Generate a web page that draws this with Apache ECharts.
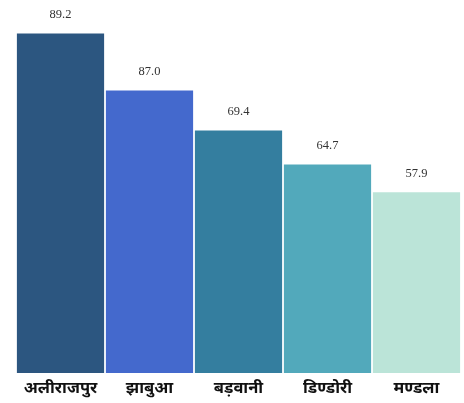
<!DOCTYPE html>
<html>
<head>
<meta charset="utf-8">
<script src="https://cdn.jsdelivr.net/npm/echarts@6/dist/echarts.min.js"></script>
<style>html,body{margin:0;padding:0;background:#fff;}#c{width:464px;height:403px;}</style>
</head>
<body>
<div id="c"></div>
<script>
var categories = ['अलीराजपुर', 'झाबुआ', 'बड़वानी', 'डिण्डोरी', 'मण्डला'];
var valueLabels = ['89.2', '87.0', '69.4', '64.7', '57.9'];
// bar lengths as drawn in the picture (same units as the first bar's label)
var barHeights = [89.2, 74.2, 63.7, 54.8, 47.5];
var barColors = ['#2c5680', '#4469cd', '#347e9f', '#52a9bb', '#bbe4d8'];

var chart = echarts.init(document.getElementById('c'));
chart.setOption({
  animation: false,
  grid: {left: 16, right: 3, top: 0, bottom: 30},
  xAxis: {
    type: 'category',
    data: categories,
    axisLine: {show: false},
    axisTick: {show: false},
    axisLabel: {
      interval: 0,
      hideOverlap: false,
      margin: 7,
      fontSize: 16.5,
      fontWeight: 'bold',
      color: '#111',
      fontFamily: 'Noto Sans, sans-serif'
    }
  },
  yAxis: {
    type: 'value',
    min: 0,
    max: 98,
    show: false
  },
  series: [{
    type: 'bar',
    data: barHeights.map(function (v, i) {
      return {value: v, itemStyle: {color: barColors[i]}};
    }),
    barCategoryGap: '2%',
    label: {
      show: true,
      position: 'top',
      distance: 12,
      fontSize: 12.5,
      color: '#333',
      fontFamily: 'Liberation Serif, serif',
      formatter: function (p) { return valueLabels[p.dataIndex]; }
    }
  }]
});
</script>
</body>
</html>
